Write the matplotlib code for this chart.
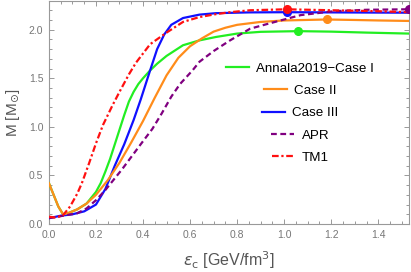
import matplotlib
matplotlib.use("Agg")
import matplotlib.pyplot as plt
from matplotlib.ticker import MultipleLocator

plt.rcParams['font.family'] = ['Liberation Sans', 'DejaVu Sans']
plt.rcParams['mathtext.fontset'] = 'dejavusans'

# ---- data ----
x_case1 = [0.0, 0.02, 0.04, 0.06, 0.08, 0.12, 0.16, 0.20, 0.22, 0.24, 0.26, 0.28, 0.30, 0.32,
           0.34, 0.36, 0.38, 0.40, 0.43, 0.46, 0.50, 0.57, 0.64, 0.71, 0.80, 0.90, 1.06, 1.20,
           1.35, 1.53]
y_case1 = [0.42, 0.30, 0.18, 0.10, 0.11, 0.15, 0.21, 0.33, 0.42, 0.54, 0.67, 0.82, 0.97, 1.12,
           1.26, 1.36, 1.44, 1.50, 1.58, 1.65, 1.73, 1.84, 1.89, 1.925, 1.96, 1.978, 1.985, 1.98,
           1.97, 1.96]

x_case2 = [0.0, 0.02, 0.04, 0.06, 0.08, 0.12, 0.16, 0.20, 0.25, 0.30, 0.35, 0.40, 0.45, 0.50,
           0.55, 0.60, 0.65, 0.70, 0.75, 0.80, 0.90, 1.00, 1.18, 1.30, 1.40, 1.53]
y_case2 = [0.42, 0.30, 0.18, 0.10, 0.11, 0.15, 0.21, 0.30, 0.45, 0.63, 0.84, 1.06, 1.30, 1.53,
           1.71, 1.83, 1.91, 1.98, 2.02, 2.05, 2.08, 2.095, 2.105, 2.10, 2.095, 2.09]

x_case3 = [0.0, 0.05, 0.10, 0.15, 0.20, 0.24, 0.28, 0.32, 0.36, 0.39, 0.43, 0.46, 0.49, 0.52,
           0.57, 0.64, 0.71, 0.85, 1.01, 1.20, 1.40, 1.53]
y_case3 = [0.06, 0.085, 0.10, 0.13, 0.20, 0.36, 0.60, 0.82, 1.07, 1.28, 1.58, 1.80, 1.95, 2.05,
           2.12, 2.155, 2.17, 2.178, 2.18, 2.178, 2.176, 2.175]

x_apr = [0.0, 0.06, 0.12, 0.16, 0.20, 0.24, 0.27, 0.31, 0.35, 0.39, 0.44, 0.48, 0.52, 0.557,
         0.61, 0.64, 0.70, 0.77, 0.855, 0.93, 1.07, 1.21, 1.35, 1.53]
y_apr = [0.06, 0.085, 0.11, 0.16, 0.245, 0.35, 0.44, 0.56, 0.69, 0.82, 0.98, 1.14, 1.31, 1.44,
         1.58, 1.67, 1.78, 1.89, 2.01, 2.06, 2.15, 2.19, 2.205, 2.21]

x_tm1 = [0.0, 0.03, 0.06, 0.09, 0.12, 0.14, 0.17, 0.20, 0.23, 0.27, 0.30, 0.34, 0.37, 0.43,
         0.50, 0.57, 0.64, 0.71, 0.77, 0.855, 1.01, 1.20, 1.40, 1.53]
y_tm1 = [0.075, 0.065, 0.09, 0.18, 0.31, 0.42, 0.62, 0.83, 1.02, 1.22, 1.36, 1.54, 1.66, 1.85,
         1.97, 2.08, 2.13, 2.16, 2.18, 2.20, 2.21, 2.20, 2.19, 2.18]

# maximum-mass points
mx_x = [1.06, 1.18, 1.01, 1.53, 1.01]
mx_y = [1.985, 2.105, 2.178, 2.21, 2.21]

labels = ["Annala2019\u2212Case I", "Case II", "Case III", "APR", "TM1"]
colors = ["#22ee22", "#ff8c1a", "#1010ff", "#800080", "#ff1010"]

fig = plt.figure(figsize=(4.11, 2.72), dpi=100)
ax = fig.add_axes([0.119, 0.1765, 0.877, 0.8215])

lw = 1.6
ax.plot(x_case1, y_case1, color=colors[0], lw=lw, label=labels[0], zorder=3)
ax.plot(x_case2, y_case2, color=colors[1], lw=lw, label=labels[1], zorder=4)
ax.plot(x_case3, y_case3, color=colors[2], lw=lw, label=labels[2], zorder=3)
ax.plot(x_apr, y_apr, color=colors[3], lw=lw, ls=(0, (2.6, 1.6)), label=labels[3], zorder=5)
ax.plot(x_tm1, y_tm1, color=colors[4], lw=lw, ls=(0, (3.0, 1.2, 1.0, 1.2)), label=labels[4], zorder=6)

for i in range(5):
    ax.plot([mx_x[i]], [mx_y[i]], 'o', color=colors[i], ms=5.5, zorder=7, clip_on=True)

ax.set_xlim(0, 1.532)
ax.set_ylim(0, 2.30)

ax.xaxis.set_major_locator(MultipleLocator(0.2))
ax.xaxis.set_minor_locator(MultipleLocator(0.05))
ax.yaxis.set_major_locator(MultipleLocator(0.5))
ax.yaxis.set_minor_locator(MultipleLocator(0.1))
ax.xaxis.set_major_formatter(matplotlib.ticker.FormatStrFormatter('%.1f'))
ax.yaxis.set_major_formatter(matplotlib.ticker.FormatStrFormatter('%.1f'))

gray = '#999999'
for s in ax.spines.values():
    s.set_color(gray)
    s.set_linewidth(0.8)
ax.tick_params(which='both', direction='in', top=True, right=True, color=gray,
               labelcolor='#777777', labelsize=7.5, width=0.7)
ax.tick_params(which='major', length=3.5, pad=4)
ax.tick_params(which='minor', length=2)

ax.set_xlabel(r'$\epsilon_{\mathrm{c}}$ [GeV/fm$^3$]', fontsize=11.5, color='#555555', labelpad=7)
ax.set_ylabel(r'M [M$_{\odot}$]', fontsize=11, color='#555555', labelpad=5)

leg = ax.legend(loc='upper left', bbox_to_anchor=(0.492, 0.724), frameon=False, fontsize=9.6,
                handlelength=1.73, handletextpad=0.53, labelspacing=0.75, borderpad=0,
                borderaxespad=0)
try:
    for col in leg._legend_handle_box.get_children():
        col.align = 'center'
except Exception:
    pass

fig.savefig('out.png', dpi=100)
